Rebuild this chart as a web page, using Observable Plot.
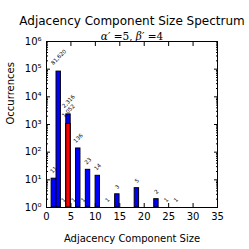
<!DOCTYPE html>
<html><head><meta charset="utf-8">
<script src="https://cdn.jsdelivr.net/npm/d3@7"></script>
<script src="https://cdn.jsdelivr.net/npm/@observablehq/plot@0.6"></script>
<style>body{margin:0;background:#fff}svg{font-family:"DejaVu Sans",sans-serif}</style>
</head><body><div id="chart"></div>
<script>
const sizes = [1,2,3,4,5,6,7,8,10,12,14,18,22,24,26];
const counts = [11,81620,1,2316,1,136,1,23,14,1,3,5,2,1,1];
const countLabels = ["11","81,620","1","2,316","1","136","1","23","14","1","3","5","2","1","1"];
const redSizes = [4];
const redCounts = [1052];
const redLabels = ["1,052"];
const xTicks = [0,5,10,15,20,25,30,35];
const yTicks = [1,10,100,1000,10000,100000,1000000];
const yTickLabels = ["10⁰","10¹","10²","10³","10⁴","10⁵","10⁶"];
const title = "Adjacency Component Size Spectrum";
const subtitle = "α′ =5, β′ =4";
const xLabel = "Adjacency Component Size";
const yLabel = "Occurrences";

const blue = sizes.map((s,i)=>({size:s,count:counts[i],label:countLabels[i]}));
const red = redSizes.map((s,i)=>({size:s,count:redCounts[i],label:redLabels[i]}));
const minor = d3.scaleLog().domain([1,1e6]).ticks().filter(v=>!yTicks.includes(v));

function labelMarks(data){
  const lens = [...new Set(data.map(d=>d.label.length))];
  return lens.map(n=>Plot.text(data.filter(d=>d.label.length===n),{
    x:d=>d.size+0.5, y:d=>Math.max(d.count,1), text:"label", rotate:-45,
    textAnchor:"middle", fontSize:5.5, dy:-(6+1.4*n), fill:"black"}));
}

const chart = Plot.plot({
  width:249, height:249,
  marginTop:41, marginLeft:46, marginRight:32, marginBottom:42,
  x:{domain:[0,35]},
  y:{type:"log", domain:[1,1e6]},
  marks:[
    Plot.rect(blue.filter(d=>d.count>1),{x1:d=>d.size+0.05,x2:d=>d.size+0.95,y1:d=>1,y2:"count",fill:"#0000ff",stroke:"black",strokeWidth:1}),
    Plot.rect(red,{x1:d=>d.size+0.05,x2:d=>d.size+0.95,y1:d=>1,y2:"count",fill:"#ff0000",stroke:"black",strokeWidth:1}),
    ...labelMarks(blue),
    ...labelMarks(red),
    Plot.frame({stroke:"black"}),
    Plot.axisX({ticks:xTicks, tickSize:-4, tickPadding:9, fontSize:10, label:null, tickFormat:d=>String(d)}),
    Plot.axisX({anchor:"top", ticks:xTicks, tickSize:-4, label:null, tickFormat:()=>""}),
    Plot.axisY({ticks:yTicks, tickSize:-4, tickPadding:9, fontSize:10, label:null, tickFormat:d=>yTickLabels[yTicks.indexOf(d)]}),
    Plot.axisY({anchor:"right", ticks:yTicks, tickSize:-4, label:null, tickFormat:()=>""}),
    Plot.axisY({ticks:minor, tickSize:-2, label:null, tickFormat:()=>""}),
    Plot.axisY({anchor:"right", ticks:minor, tickSize:-2, label:null, tickFormat:()=>""}),
    Plot.text([title],{frameAnchor:"top", text:d=>d, dy:-25, fontSize:12, fill:"black"}),
    Plot.text([subtitle],{frameAnchor:"top", text:d=>d, dy:-9, fontSize:10.5, fontFamily:"DejaVu Serif", fill:"black"}),
    Plot.text([xLabel],{frameAnchor:"bottom", text:d=>d, dy:34, fontSize:10, fill:"black"}),
    Plot.text([yLabel],{frameAnchor:"left", text:d=>d, dx:-36, rotate:-90, fontSize:10, fill:"black"})
  ]
});
document.getElementById("chart").appendChild(chart);
d3.select(chart).selectAll("text").filter(function(){return this.textContent===subtitle;}).each(function(){
  const t=d3.select(this); t.text(null);
  [["α′",true],[" =5, ",false],["β′",true],[" =4",false]].forEach(([s,it])=>{
    t.append("tspan").text(s).attr("font-style",it?"italic":"normal");
  });
});
</script></body></html>
